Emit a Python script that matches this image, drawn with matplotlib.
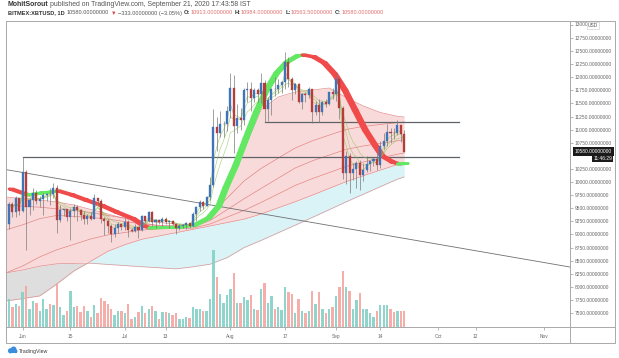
import numpy as np
import pandas as pd
import matplotlib
matplotlib.use("Agg")
import matplotlib.pyplot as plt
from matplotlib.lines import Line2D
from matplotlib.patches import Ellipse, Rectangle
import matplotlib.transforms as mtransforms

plt.rcParams['font.family'] = ['Liberation Sans', 'DejaVu Sans']

W, H = 619, 358

# ---------------- data ----------------
dates = pd.date_range('2020-05-28', '2020-09-21', freq='D')
day = (dates - pd.Timestamp('2020-06-01')).days.values.astype(float)

OPEN = [9200, 9575, 9430, 9690,
        9450, 10200, 9520, 9665, 9800, 9630, 9670, 9750, 9780, 9770,
        9890, 9275, 9470, 9480, 9340, 9440, 9520, 9460, 9380, 9300,
        9360, 9290, 9690, 9630, 9290, 9250, 9170, 9000, 9120, 9190,
        9140, 9235, 9090, 9060, 9135, 9080, 9345, 9250, 9430, 9235,
        9285, 9235, 9300, 9240, 9250, 9195, 9130, 9155, 9175, 9210,
        9160, 9390, 9530, 9610, 9550, 9710, 9935, 11050, 10930, 11100, 11110,
        11350, 11800, 11070, 11230, 11190, 11750, 11770, 11600, 11760, 11680,
        11880, 11390, 11570, 11780, 11770, 11860, 11910, 12290, 11960, 11750,
        11870, 11530, 11680, 11660, 11770, 11340, 11470, 11330, 11530, 11480, 11710,
        11680, 11970, 11420, 10170, 10490, 10180, 10250, 10370, 10130, 10230,
        10350, 10400, 10440, 10330, 10680, 10790, 10950, 10940, 10930, 11080, 10913]
HIGH = [9620, 9610, 9740, 9700,
        10480, 10230, 9690, 9880, 9850, 9730, 9800, 9800, 9880, 9990,
        9950, 9560, 9490, 9490, 9500, 9580, 9560, 9480, 9440, 9390,
        9420, 9780, 9700, 9670, 9330, 9300, 9190, 9190, 9230, 9200,
        9310, 9270, 9120, 9190, 9140, 9370, 9350, 9450, 9440, 9300,
        9300, 9340, 9340, 9280, 9270, 9210, 9190, 9200, 9240, 9220,
        9430, 9550, 9660, 9630, 9730, 10100, 11400, 11250, 11350, 11170, 11450,
        12080, 12050, 11480, 11420, 11790, 11910, 11900, 11800, 11800, 12080,
        11940, 11620, 11800, 12000, 11970, 11930, 12480, 12380, 12010, 11880,
        11880, 11690, 11720, 11820, 11780, 11540, 11590, 11550, 11580, 11720, 11790,
        12080, 11980, 11460, 10600, 10560, 10360, 10410, 10420, 10360, 10490,
        10410, 10480, 10580, 10790, 10940, 11100, 11040, 11040, 11180, 11090, 10984]
LOW = [9110, 9340, 9340, 9380,
       9420, 8700, 9380, 9460, 9580, 9530, 9380, 9640, 9570, 9700,
       9030, 9230, 9350, 9250, 8900, 9330, 9260, 9280, 9200, 9200,
       9280, 9290, 9570, 9210, 8990, 9030, 8850, 8950, 9020, 9080,
       9090, 8950, 9040, 9050, 8930, 9060, 9210, 9230, 9160, 9120,
       9190, 9160, 9200, 9120, 9180, 9000, 9090, 9120, 9100, 9130,
       9150, 9260, 9450, 9480, 9540, 9660, 9900, 10600, 10850, 10850, 10980,
       11220, 10550, 10930, 11000, 11090, 11530, 11350, 11530, 11520, 11500,
       11150, 11160, 11280, 11640, 11700, 11700, 11780, 11820, 11570, 11680,
       11500, 11390, 11530, 11600, 11130, 11270, 11140, 11280, 11430, 11470, 11580,
       11550, 11200, 10050, 9970, 9800, 10030, 9880, 9850, 10020, 10190,
       10210, 10300, 10230, 10260, 10630, 10680, 10750, 10820, 10890, 10760, 10563.5]
CLOSE = [9575, 9430, 9690, 9450,
         10200, 9520, 9665, 9800, 9630, 9670, 9750, 9780, 9770, 9890,
         9275, 9470, 9480, 9340, 9440, 9520, 9460, 9380, 9300, 9360,
         9290, 9690, 9630, 9290, 9250, 9170, 9000, 9120, 9190, 9140,
         9235, 9090, 9060, 9135, 9080, 9345, 9250, 9430, 9235, 9285,
         9235, 9300, 9240, 9250, 9195, 9130, 9155, 9175, 9210, 9160,
         9390, 9530, 9610, 9550, 9710, 9935, 11050, 10930, 11100, 11110, 11350,
         11800, 11070, 11230, 11190, 11750, 11770, 11600, 11760, 11680, 11880,
         11390, 11570, 11780, 11770, 11860, 11910, 12290, 11960, 11750, 11870,
         11530, 11680, 11660, 11770, 11340, 11470, 11330, 11530, 11480, 11710, 11680,
         11970, 11420, 10170, 10490, 10180, 10250, 10370, 10130, 10230, 10350,
         10400, 10440, 10330, 10680, 10790, 10950, 10940, 10930, 11080, 10913, 10580]
VOLUME = [27.7, 20.3, 23, 21, 34.7, 41, 17.7, 25.7, 23.7, 16, 28.3, 18.3, 23, 21.7,
          44.3, 19.7, 11.7, 15.7, 36.3, 20.3, 21, 15, 21, 15.7,
          10.3, 22, 14.3, 29, 26.3, 23, 18.3, 12.3, 16.3, 15.7,
          13.7, 23, 8.3, 9.7, 15, 21, 13.7, 18.3, 21, 15.7,
          8.3, 15, 15, 14.3, 12.3, 14.3, 8.3, 8.3, 9.7, 9,
          20.3, 17.7, 18.3, 15.7, 16.3, 28.3, 77, 49.7, 33, 23.7,
          32.3, 38.3, 54.3, 24.3, 24.3, 29.7, 27, 32.3, 17.7, 17,
          37.7, 43.7, 23.7, 31, 18.3, 20.3, 17, 40.3, 35, 33,
          14.3, 27.7, 16.3, 14.3, 16.3, 36.3, 23, 35, 17.7, 13.7,
          17.7, 20.3, 31, 39.7, 55.7, 39.7, 36.3, 18.3, 27, 34.3,
          18.3, 17.7, 14.3, 9.7, 16.3, 21.7, 21.7, 21.7, 17.7, 15,
          15.7, 15.7, 15.7]

# indicator lines (days since Jun 1)
IND_DAYS = np.array([-5, 0, 5, 10, 15, 20, 25, 30, 35, 40, 45, 50, 55, 60, 65,
                     70, 75, 80, 85, 90, 95, 100, 105, 110, 112])
BAND_TOP = np.array([9714, 9686, 9657, 9619, 9562, 9477, 9390, 9302, 9230, 9161, 9161, 9161,
                     9371, 9848, 10611, 11374, 11622, 11718, 11756, 11794, 11613, 11451,
                     11327, 11255, 11241])
EMA_A = np.array([9562, 9539, 9520, 9489, 9457, 9419, 9361, 9314, 9262, 9228, 9199, 9171,
                  9363, 9692, 10020, 10260, 10455, 10649, 10785, 10895, 11004, 11060,
                  11098, 11134, 11145])
EMA_B = np.array([9085, 9184, 9300, 9363, 9344, 9325, 9293, 9247, 9201, 9173, 9161, 9148,
                  9264, 9472, 9680, 9878, 10073, 10268, 10403, 10514, 10623, 10688,
                  10737, 10787, 10802])
EMA_C = np.array([8264, 8398, 8571, 8707, 8810, 8915, 8991, 9037, 9083, 9108, 9113, 9121,
                  9199, 9329, 9459, 9610, 9772, 9934, 10064, 10180, 10298, 10382,
                  10457, 10531, 10554])
MA_FAST = np.array([7730, 7776, 7827, 8053, 8302, 8488, 8678, 8804, 8907, 8970, 9033, 9096,
                    9161, 9226, 9291, 9390, 9507, 9623, 9749, 9878, 10008, 10119,
                    10226, 10333, 10363])
MA_SLOW = np.array([8264, 8323, 8394, 8440, 8448, 8451, 8428, 8406, 8384, 8364, 8343, 8383,
                    8432, 8556, 8749, 8886, 9031, 9176, 9323, 9472, 9623, 9766,
                    9911, 10054, 10096])

RIB_DAYS = np.array([-4, 1, 5, 10, 14, 18, 23, 27, 32, 35, 37, 42, 46, 50, 54, 57, 59, 62,
                     65, 68, 71, 74, 77, 80, 82, 85, 88, 91, 94, 97, 100, 103, 105, 108,
                     110, 112])
RIBBON = np.array([9867, 9753, 9791, 9829, 9753, 9657, 9543, 9428, 9295, 9161, 9123, 9132,
                   9142, 9180, 9314, 9543, 9886, 10325, 10840, 11336, 11756, 12080, 12290,
                   12405, 12424, 12386, 12271, 12061, 11756, 11374, 10993, 10688, 10497,
                   10382, 10344, 10354])

# drawn lines
HLINE_LOW, HLINE_LOW_START = 10480, 0
HLINE_HIGH, HLINE_HIGH_START = 11150, 71
HLINE_END = 128
TREND_DAYS = [-5, 161]
TREND_PRICES = [10238, 8375]

PRICE_TICKS = [v for v in range(7500, 12751, 250) if v != 10500]
TOP_PRICE = 13000
XTICK_DAYS = [0, 14, 30, 42, 61, 77, 92, 105, 122, 133, 153]
XTICK_LABELS = ['Jun', '15', 'Jul', '13', 'Aug', '17', 'Sep', '14', 'Oct', '12', 'Nov']

# ---------------- figure ----------------
fig = plt.figure(figsize=(W / 100, H / 100), dpi=100)
fig.patch.set_facecolor('white')
renderer = fig.canvas.get_renderer()


def px(x, y):
    return x / W, 1 - y / H


def fit_size(s, target, **kw):
    t = fig.text(0, 0, s, fontsize=10, **kw)
    w = t.get_window_extent(renderer=renderer).width
    t.remove()
    return 10 * target / w


L, R, T, B = 6, 570, 20.7, 327
ax = fig.add_axes([L / W, 1 - B / H, (R - L) / W, (B - T) / H])
ax.set_facecolor('white')
ax.set_xlim(-4.9, 160.7)
ax.set_ylim(7234, 13078)

o = np.array(OPEN); h = np.array(HIGH); lo = np.array(LOW); c = np.array(CLOSE)
up = c >= o

# cloud / band fills
lower = np.maximum(MA_FAST, MA_SLOW)
ax.fill_between(IND_DAYS, BAND_TOP, lower, color='#f8d4d4', alpha=0.85, lw=0, zorder=1)
ax.fill_between(IND_DAYS, MA_FAST, MA_SLOW, where=MA_FAST < MA_SLOW, interpolate=True,
                color='#d9d9d9', alpha=0.85, lw=0, zorder=1)
ax.fill_between(IND_DAYS, MA_FAST, MA_SLOW, where=MA_FAST >= MA_SLOW, interpolate=True,
                color='#daf3f7', lw=0, zorder=1)
for arr in (BAND_TOP, EMA_A, EMA_B, EMA_C):
    ax.plot(IND_DAYS, arr, color='#d86464', lw=0.5, alpha=0.7, zorder=2)
for arr in (MA_FAST, MA_SLOW):
    ax.plot(IND_DAYS, arr, color='#d98080', lw=0.5, alpha=0.8, zorder=2)

# drawn lines
ax.plot([HLINE_LOW_START, HLINE_END], [HLINE_LOW, HLINE_LOW], color='#5f6368', lw=0.9, zorder=3)
ax.plot([HLINE_HIGH_START, HLINE_END], [HLINE_HIGH, HLINE_HIGH], color='#5f6368', lw=0.9, zorder=3)
ax.plot(TREND_DAYS, TREND_PRICES, color='#707070', lw=0.6, zorder=3)

# thick coloured ribbon
lag = 1.2
for i in range(len(RIB_DAYS) - 1):
    col = '#62e862' if RIBBON[i + 1] >= RIBBON[i] else '#f04a4a'
    xs = [RIB_DAYS[i], RIB_DAYS[i + 1], RIB_DAYS[i + 1] + lag, RIB_DAYS[i] + lag]
    ys = [RIBBON[i], RIBBON[i + 1], RIBBON[i + 1], RIBBON[i]]
    ax.fill(xs, ys, facecolor=col, edgecolor=col, lw=2.0, joinstyle='round', zorder=4)

# short EMAs
cs = pd.Series(c)
for span in (3, 5, 8):
    ax.plot(day, cs.ewm(span=span, adjust=False).mean(), color='#8fc45a', lw=0.45,
            alpha=0.75, zorder=5)

# candles
BLUE, RED = '#3f74b9', '#b53e3a'
cols = np.where(up, BLUE, RED)
ax.vlines(day, lo, h, color='#7a7a7a', lw=0.5, zorder=6)
ax.bar(day, np.abs(c - o), bottom=np.minimum(o, c), width=0.6, color=cols,
       edgecolor=cols, lw=0.25, zorder=7)

# volume
axv = fig.add_axes(ax.get_position(), sharex=ax)
axv.patch.set_visible(False)
axv.axis('off')
vcols = np.where(up, '#83d1c6', '#f4a5a0')
axv.bar(day, VOLUME, width=0.7, color=vcols, alpha=0.9)
axv.set_ylim(0, max(VOLUME) * 3.98)

# axes ticks
for s in ax.spines.values():
    s.set_visible(False)
psize = fit_size('12750.00000000', 37)
tsize = fit_size('Aug', 8.5)
ax.yaxis.tick_right()
ax.set_yticks(PRICE_TICKS + [TOP_PRICE])
ax.set_yticklabels([f'{v:.8f}' for v in PRICE_TICKS] + [''])
ax.tick_params(axis='y', length=2, width=0.5, color='#9a9a9a', pad=1.2,
               labelsize=psize, labelcolor='#666666')
ax.set_xticks(XTICK_DAYS)
ax.set_xticklabels(XTICK_LABELS)
ax.tick_params(axis='x', length=1.8, width=0.5, color='#9a9a9a', pad=3.2,
               labelsize=tsize, labelcolor='#666666')

# top price label partly covered by the currency badge
trans = mtransforms.blended_transform_factory(ax.transAxes, ax.transData)
x_lab = 1 + (574.5 - R) / (R - L)
ax.text(x_lab, TOP_PRICE, f'{TOP_PRICE}', transform=trans, ha='left', va='center',
        fontsize=psize, color='#666666', clip_on=False)
fig.text(*px(593, 25.5), 'USD', fontsize=psize, color='#555555', ha='center', va='center',
         bbox=dict(boxstyle='square,pad=0.25', fc='white', ec='#c8c8c8', lw=0.4), zorder=20)

# last-price labels
xr = 1 + (612 - R) / (R - L)
ax.text(xr, c[-1], f'{c[-1]:.8f}', transform=trans, ha='right', va='center',
        fontsize=psize, color='white', clip_on=False, zorder=20,
        bbox=dict(boxstyle='square,pad=0.35', fc='#1b1b1b', ec='none'))
ax.annotate('11:46:29', xy=(xr, c[-1]), xycoords=trans, xytext=(0, -4.6),
            textcoords='offset points', ha='right', va='center', fontsize=psize,
            color='white', annotation_clip=False, zorder=20,
            bbox=dict(boxstyle='square,pad=0.3', fc='#1b1b1b', ec='none'))

# frame
def fline(xs, ys, **kw):
    fig.add_artist(Line2D([x / W for x in xs], [1 - y / H for y in ys],
                          transform=fig.transFigure, **kw))

fkw = dict(color='#a9a9a9', lw=0.7)
fline([6, 615, 615, 6, 6], [20.7, 20.7, 343, 343, 20.7], **fkw)
fline([570, 570], [20.7, 343], **fkw)
fline([6, 615], [327, 327], **fkw)

# header text
def draw_parts(parts, x0, y, target):
    total = 0
    gaps = sum(g for _, _, _, g in parts)
    for s, col, wt, g in parts:
        t = fig.text(0, 0, s, fontsize=10, fontweight=wt)
        total += t.get_window_extent(renderer=renderer).width
        t.remove()
    size = 10 * (target - gaps) / total
    x = x0
    for s, col, wt, g in parts:
        t = fig.text(*px(x, y), s, fontsize=size, fontweight=wt, color=col,
                     ha='left', va='center')
        x += t.get_window_extent(renderer=renderer).width + g

DARK, GREY, PINK = '#333333', '#555555', '#e27070'
draw_parts([('MohitSorout', DARK, 'bold', 1.6),
            ('published on TradingView.com, September 21, 2020 17:43:58 IST', GREY, 'normal', 0)],
           8, 5, 242)
draw_parts([('BITMEX:XBTUSD, 1D', DARK, 'bold', 2.2),
            ('10580.00000000', GREY, 'normal', 1.5),
            ('▼', '#e04848', 'normal', 1.5),
            ('\u2212333.00000000 (\u22123.05%)', GREY, 'normal', 2.0),
            ('O:', DARK, 'bold', 0.4), ('10913.00000000', PINK, 'normal', 2.0),
            ('H:', DARK, 'bold', 0.4), ('10984.00000000', PINK, 'normal', 2.0),
            ('L:', DARK, 'bold', 0.4), ('10563.50000000', PINK, 'normal', 2.0),
            ('C:', DARK, 'bold', 0.4), ('10580.00000000', PINK, 'normal', 0)],
           8, 13, 375)

# footer logo
logo = '#3b8ede'
for (cx, cy, r) in [(10.5, 350.8, 2.6), (13.6, 349.4, 2.9), (15.6, 351.3, 1.9)]:
    fig.add_artist(Ellipse(px(cx, cy), 2 * r / W, 2 * r / H, transform=fig.transFigure,
                           fc=logo, ec='none'))
fig.add_artist(Rectangle(px(9, 353.2), 7.5 / W, 2.2 / H, transform=fig.transFigure,
                         fc=logo, ec='none'))
fsize = fit_size('TradingView', 29)
fig.text(*px(18.5, 351), 'TradingView', fontsize=fsize, color='#3a3a3a', ha='left', va='center')

fig.savefig('out.png', dpi=100)
